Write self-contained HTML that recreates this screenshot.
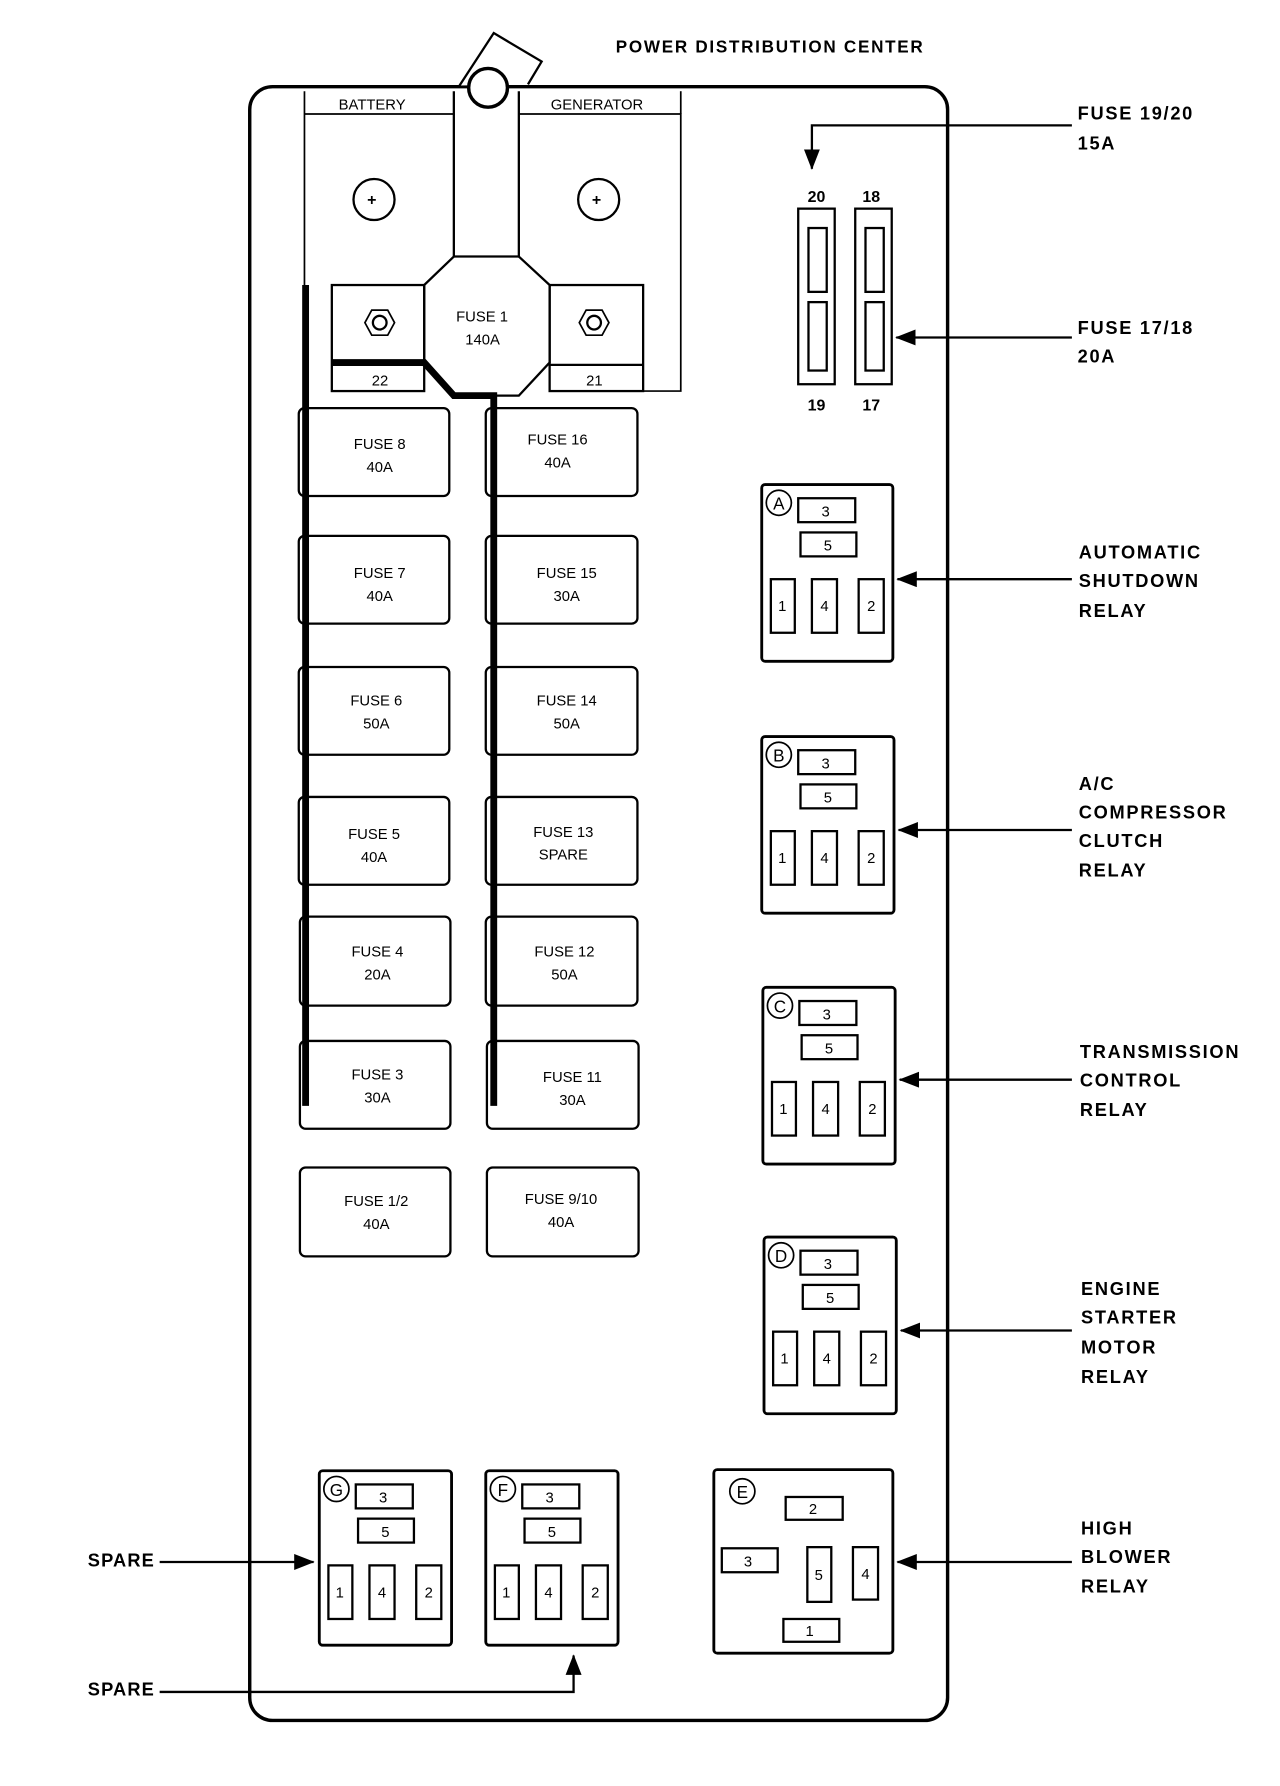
<!DOCTYPE html>
<html><head><meta charset="utf-8"><style>
html,body{margin:0;padding:0;background:#fff}
svg{display:block}
text{font-family:"Liberation Sans",sans-serif;fill:#000}
.l{font-weight:bold;font-size:16px;letter-spacing:1.5px}
.f{font-size:14px;font-weight:bold}
.s{font-size:13px}
</style></head><body>
<svg width="1280" height="1786" viewBox="0 0 1122.5 1566.5" preserveAspectRatio="none" xmlns="http://www.w3.org/2000/svg">
<defs>
<marker id="ah2" markerWidth="18" markerHeight="14" refX="17" refY="7" orient="auto" markerUnits="userSpaceOnUse"><path d="M0,0 L18,7 L0,14 Z" fill="#000"/></marker>
</defs>
<g fill="none" stroke="#000">
<text x="540" y="46" class="l" style="font-size:15px" stroke="none">POWER DISTRIBUTION CENTER</text>
<rect x="219" y="76" width="612" height="1433" rx="20" stroke-width="3"/>
<path d="M403,75 L433,29 L475,54 L463,74" fill="#fff" stroke-width="2"/>
<circle cx="428" cy="77" r="17" fill="#fff" stroke-width="3"/>
<path d="M267,80 V250 M267,100 H398 M455,100 H597 V343 H564" stroke-width="1.5"/>
<line x1="597" y1="80" x2="597" y2="100" stroke-width="1.5"/>
<text x="297" y="96" class="s" stroke="none">BATTERY</text>
<text x="483" y="96" class="s" stroke="none">GENERATOR</text>
<circle cx="328" cy="175" r="18" stroke-width="2"/><text x="322" y="180" class="f" stroke="none">+</text>
<circle cx="525" cy="175" r="18" stroke-width="2"/><text x="519" y="180" class="f" stroke="none">+</text>
<path d="M398,80 V225 H455 V80" stroke-width="2"/>
<path d="M398,225 L372,250 V318 L398,347 H455 L482,318 V250 L455,225" stroke-width="2"/>
<text x="400" y="282" class="s" stroke="none">FUSE 1</text>
<text x="408" y="302" class="s" stroke="none">140A</text>
<rect x="291" y="250" width="81" height="93" stroke-width="2"/>
<line x1="291" y1="320" x2="372" y2="320" stroke-width="2"/>
<rect x="482" y="250" width="82" height="93" stroke-width="2"/>
<line x1="482" y1="320" x2="564" y2="320" stroke-width="2"/>
<text x="326" y="338" class="s" stroke="none">22</text>
<text x="514" y="338" class="s" stroke="none">21</text>
<path d="M320,283 l6,-11 h14 l6,11 l-6,11 h-14 z" stroke-width="1.5"/>
<circle cx="333" cy="283" r="6" stroke-width="2"/>
<path d="M508,283 l6,-11 h14 l6,11 l-6,11 h-14 z" stroke-width="1.5"/>
<circle cx="521" cy="283" r="6" stroke-width="2"/>
<path d="M268,250 V970" stroke-width="6"/>
<path d="M291,318 H372 L398,347 H433 V970" stroke-width="6"/>
<g stroke-width="2">
<rect x="262" y="358" width="132" height="77" rx="5"/><rect x="426" y="358" width="133" height="77" rx="5"/>
<rect x="262" y="470" width="132" height="77" rx="5"/><rect x="426" y="470" width="133" height="77" rx="5"/>
<rect x="262" y="585" width="132" height="77" rx="5"/><rect x="426" y="585" width="133" height="77" rx="5"/>
<rect x="262" y="699" width="132" height="77" rx="5"/><rect x="426" y="699" width="133" height="77" rx="5"/>
<rect x="263" y="804" width="132" height="78" rx="5"/><rect x="426" y="804" width="133" height="78" rx="5"/>
<rect x="263" y="913" width="132" height="77" rx="5"/><rect x="427" y="913" width="133" height="77" rx="5"/>
<rect x="263" y="1024" width="132" height="78" rx="5"/><rect x="427" y="1024" width="133" height="78" rx="5"/>
</g>
<g class="s" stroke="none" text-anchor="middle">
<text x="333" y="394">FUSE 8</text><text x="333" y="414">40A</text>
<text x="489" y="390">FUSE 16</text><text x="489" y="410">40A</text>
<text x="333" y="507">FUSE 7</text><text x="333" y="527">40A</text>
<text x="497" y="507">FUSE 15</text><text x="497" y="527">30A</text>
<text x="330" y="619">FUSE 6</text><text x="330" y="639">50A</text>
<text x="497" y="619">FUSE 14</text><text x="497" y="639">50A</text>
<text x="328" y="736">FUSE 5</text><text x="328" y="756">40A</text>
<text x="494" y="734">FUSE 13</text><text x="494" y="754">SPARE</text>
<text x="331" y="839">FUSE 4</text><text x="331" y="859">20A</text>
<text x="495" y="839">FUSE 12</text><text x="495" y="859">50A</text>
<text x="331" y="947">FUSE 3</text><text x="331" y="967">30A</text>
<text x="502" y="949">FUSE 11</text><text x="502" y="969">30A</text>
<text x="330" y="1058">FUSE 1/2</text><text x="330" y="1078">40A</text>
<text x="492" y="1056">FUSE 9/10</text><text x="492" y="1076">40A</text>
</g>
<rect x="700" y="183" width="32" height="154" stroke-width="2"/>
<rect x="709" y="200" width="16" height="56" stroke-width="2"/><rect x="709" y="265" width="16" height="60" stroke-width="2"/>
<rect x="750" y="183" width="32" height="154" stroke-width="2"/>
<rect x="759" y="200" width="16" height="56" stroke-width="2"/><rect x="759" y="265" width="16" height="60" stroke-width="2"/>
<g class="f" stroke="none" text-anchor="middle">
<text x="716" y="177">20</text><text x="764" y="177">18</text>
<text x="716" y="360">19</text><text x="764" y="360">17</text>
</g>
<g stroke-width="2">
<rect x="668" y="425" width="115" height="155" rx="3" stroke-width="2.5"/>
<circle cx="683" cy="441" r="11" stroke-width="1.5"/>
<rect x="700" y="437" width="50" height="21"/><rect x="702" y="467" width="49" height="21"/>
<rect x="676" y="508" width="21" height="47"/><rect x="712" y="508" width="22" height="47"/><rect x="753" y="508" width="22" height="47"/>
<g class="s" stroke="none" text-anchor="middle">
<text x="683" y="447" style="font-size:15px">A</text><text x="724" y="453">3</text><text x="726" y="483">5</text>
<text x="686" y="536">1</text><text x="723" y="536">4</text><text x="764" y="536">2</text></g>
</g>
<g transform="translate(0,221)" stroke-width="2">
<rect x="668" y="425" width="116" height="155" rx="3" stroke-width="2.5"/>
<circle cx="683" cy="441" r="11" stroke-width="1.5"/>
<rect x="700" y="437" width="50" height="21"/><rect x="702" y="467" width="49" height="21"/>
<rect x="676" y="508" width="21" height="47"/><rect x="712" y="508" width="22" height="47"/><rect x="753" y="508" width="22" height="47"/>
<g class="s" stroke="none" text-anchor="middle">
<text x="683" y="447" style="font-size:15px">B</text><text x="724" y="453">3</text><text x="726" y="483">5</text>
<text x="686" y="536">1</text><text x="723" y="536">4</text><text x="764" y="536">2</text></g>
</g>
<g transform="translate(1,441)" stroke-width="2">
<rect x="668" y="425" width="116" height="155" rx="3" stroke-width="2.5"/>
<circle cx="683" cy="441" r="11" stroke-width="1.5"/>
<rect x="700" y="437" width="50" height="21"/><rect x="702" y="467" width="49" height="21"/>
<rect x="676" y="508" width="21" height="47"/><rect x="712" y="508" width="22" height="47"/><rect x="753" y="508" width="22" height="47"/>
<g class="s" stroke="none" text-anchor="middle">
<text x="683" y="447" style="font-size:15px">C</text><text x="724" y="453">3</text><text x="726" y="483">5</text>
<text x="686" y="536">1</text><text x="723" y="536">4</text><text x="764" y="536">2</text></g>
</g>
<g transform="translate(2,660)" stroke-width="2">
<rect x="668" y="425" width="116" height="155" rx="3" stroke-width="2.5"/>
<circle cx="683" cy="441" r="11" stroke-width="1.5"/>
<rect x="700" y="437" width="50" height="21"/><rect x="702" y="467" width="49" height="21"/>
<rect x="676" y="508" width="21" height="47"/><rect x="712" y="508" width="22" height="47"/><rect x="753" y="508" width="22" height="47"/>
<g class="s" stroke="none" text-anchor="middle">
<text x="683" y="447" style="font-size:15px">D</text><text x="724" y="453">3</text><text x="726" y="483">5</text>
<text x="686" y="536">1</text><text x="723" y="536">4</text><text x="764" y="536">2</text></g>
</g>
<g transform="translate(-388,865)" stroke-width="2">
<rect x="668" y="425" width="116" height="153" rx="3" stroke-width="2.5"/>
<circle cx="683" cy="441" r="11" stroke-width="1.5"/>
<rect x="700" y="437" width="50" height="21"/><rect x="702" y="467" width="49" height="21"/>
<rect x="676" y="508" width="21" height="47"/><rect x="712" y="508" width="22" height="47"/><rect x="753" y="508" width="22" height="47"/>
<g class="s" stroke="none" text-anchor="middle">
<text x="683" y="447" style="font-size:15px">G</text><text x="724" y="453">3</text><text x="726" y="483">5</text>
<text x="686" y="536">1</text><text x="723" y="536">4</text><text x="764" y="536">2</text></g>
</g>
<g transform="translate(-242,865)" stroke-width="2">
<rect x="668" y="425" width="116" height="153" rx="3" stroke-width="2.5"/>
<circle cx="683" cy="441" r="11" stroke-width="1.5"/>
<rect x="700" y="437" width="50" height="21"/><rect x="702" y="467" width="49" height="21"/>
<rect x="676" y="508" width="21" height="47"/><rect x="712" y="508" width="22" height="47"/><rect x="753" y="508" width="22" height="47"/>
<g class="s" stroke="none" text-anchor="middle">
<text x="683" y="447" style="font-size:15px">F</text><text x="724" y="453">3</text><text x="726" y="483">5</text>
<text x="686" y="536">1</text><text x="723" y="536">4</text><text x="764" y="536">2</text></g>
</g>
<g stroke-width="2">
<rect x="626" y="1289" width="157" height="161" rx="3" stroke-width="2.5"/>
<circle cx="651" cy="1308" r="11" stroke-width="1.5"/>
<rect x="689" y="1313" width="50" height="20"/><rect x="633" y="1358" width="49" height="21"/>
<rect x="708" y="1357" width="21" height="48"/><rect x="748" y="1357" width="22" height="46"/>
<rect x="687" y="1420" width="49" height="20"/>
<g class="s" stroke="none" text-anchor="middle">
<text x="651" y="1314" style="font-size:15px">E</text><text x="713" y="1328">2</text><text x="656" y="1374">3</text>
<text x="718" y="1386">5</text><text x="759" y="1385">4</text><text x="710" y="1435">1</text></g>
</g>
<g stroke-width="2">
<path d="M940,110 H712 V148" marker-end="url(#ah2)"/>
<path d="M940,296 H786" marker-end="url(#ah2)"/>
<path d="M940,508 H787" marker-end="url(#ah2)"/>
<path d="M940,728 H788" marker-end="url(#ah2)"/>
<path d="M940,947 H789" marker-end="url(#ah2)"/>
<path d="M940,1167 H790" marker-end="url(#ah2)"/>
<path d="M940,1370 H787" marker-end="url(#ah2)"/>
<path d="M140,1370 H275" marker-end="url(#ah2)"/>
<path d="M140,1484 H503 V1452" marker-end="url(#ah2)"/>
</g>
<g class="l" stroke="none">
<text x="945" y="105">FUSE 19/20</text><text x="945" y="131">15A</text>
<text x="945" y="293">FUSE 17/18</text><text x="945" y="318">20A</text>
<text x="946" y="490">AUTOMATIC</text><text x="946" y="515">SHUTDOWN</text><text x="946" y="541">RELAY</text>
<text x="946" y="693">A/C</text><text x="946" y="718">COMPRESSOR</text><text x="946" y="743">CLUTCH</text><text x="946" y="769">RELAY</text>
<text x="947" y="928">TRANSMISSION</text><text x="947" y="953">CONTROL</text><text x="947" y="979">RELAY</text>
<text x="948" y="1136">ENGINE</text><text x="948" y="1161">STARTER</text><text x="948" y="1187">MOTOR</text><text x="948" y="1213">RELAY</text>
<text x="948" y="1346">HIGH</text><text x="948" y="1371">BLOWER</text><text x="948" y="1397">RELAY</text>
<text x="77" y="1374" style="letter-spacing:1px">SPARE</text>
<text x="77" y="1487" style="letter-spacing:1px">SPARE</text>
</g>
</g>
</svg>
</body></html>
